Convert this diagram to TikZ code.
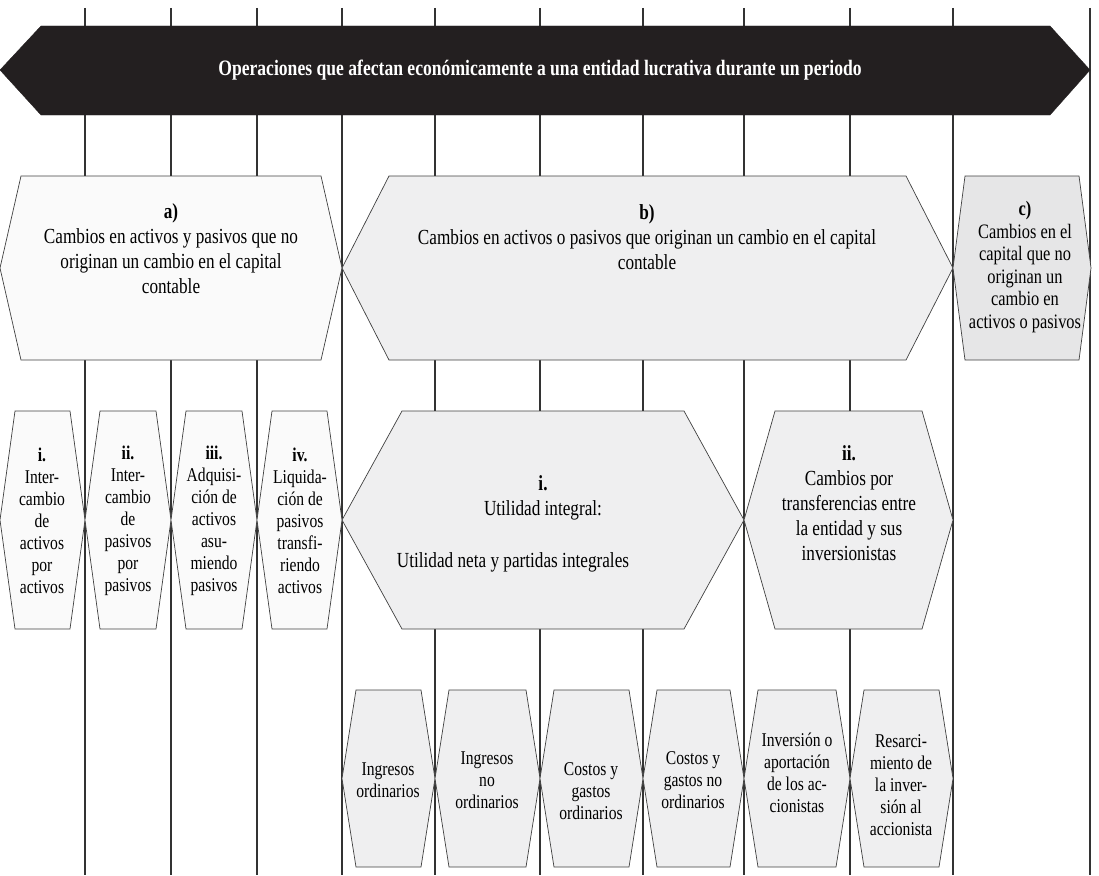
\documentclass[tikz,border=0pt]{standalone}
\usepackage{fontspec}
\setmainfont{Liberation Serif}[FakeStretch=0.8]
\usepackage{tikz}

\definecolor{bannerdark}{HTML}{231F20}
\definecolor{paleA}{HTML}{FAFAFA}
\definecolor{paleB}{HTML}{EFEFF0}
\definecolor{paleC}{HTML}{E6E6E7}

\newcommand{\hexa}[6]{%
  \filldraw[hexline, fill=#6] (#1+#5,#3) -- (#2-#5,#3) -- (#2,{(#3+#4)/2})
    -- (#2-#5,#4) -- (#1+#5,#4) -- (#1,{(#3+#4)/2}) -- cycle;}

\begin{document}
\begin{tikzpicture}
[x=1pt, y=-1pt,
    vline/.style={draw=black!80, line width=1.1pt},
    hexline/.style={draw=black!75, line width=0.7pt},
    bigtext/.style={align=center, inner sep=0pt, font=\fontsize{21.5}{25}\selectfont},
    midtext/.style={align=center, inner sep=0pt, font=\fontsize{20.5}{22.5}\selectfont},
    smalltext/.style={align=center, inner sep=0pt, font=\fontsize{19.5}{22}\selectfont}]
\useasboundingbox (0,0) rectangle (1099,875);
\draw[vline] (85,8) -- (85,875);
\draw[vline] (171,8) -- (171,875);
\draw[vline] (257,8) -- (257,875);
\draw[vline] (342,8) -- (342,875);
\draw[vline] (435,8) -- (435,875);
\draw[vline] (540,8) -- (540,875);
\draw[vline] (643,8) -- (643,875);
\draw[vline] (744,8) -- (744,875);
\draw[vline] (850,8) -- (850,875);
\draw[vline] (953,8) -- (953,875);
\draw[vline] (1090,8) -- (1090,875);

\filldraw[draw=bannerdark, fill=bannerdark] (41,26) -- (1050,26) -- (1090,70)
    -- (1050,115) -- (41,115) -- (0,70) -- cycle;
\node [bigtext, text=white, font=\fontsize{22}{25}\selectfont\bfseries] (ops) at (540,70)
    {Operaciones que afectan económicamente a una entidad lucrativa durante un periodo};

\hexa{0}{342}{176}{360}{21}{paleA}
\hexa{342}{953}{176}{360}{47}{paleB}
\hexa{953}{1091}{176}{360}{12}{paleC}
\node [bigtext] (grpA) at (171,249) {\textbf{a)}\\Cambios en activos y pasivos que no\\originan un cambio en el capital\\contable};
\node [bigtext] (grpB) at (647,237) {\textbf{b)}\\Cambios en activos o pasivos que originan un cambio en el capital\\contable};
\node [midtext] (grpC) at (1025,267) {\textbf{c)}\\Cambios en el\\capital que no\\originan un\\cambio en\\activos o pasivos};

\hexa{0}{85}{411}{629}{15}{paleA}
\hexa{85}{171}{411}{629}{15}{paleA}
\hexa{171}{257}{411}{629}{15}{paleA}
\hexa{257}{342}{411}{629}{15}{paleA}
\hexa{342}{744}{411}{629}{60}{paleB}
\hexa{744}{953}{411}{629}{31}{paleB}
\node [smalltext] (aOne) at (42,521) {\textbf{i.}\\Inter-\\cambio\\de\\activos\\por\\activos};
\node [smalltext] (aTwo) at (128,521) {\textbf{ii.}\\Inter-\\cambio\\de\\pasivos\\por\\pasivos};
\node [smalltext] (aThree) at (214,521) {\textbf{iii.}\\Adquisi-\\ción de\\activos\\asu-\\miendo\\pasivos};
\node [smalltext] (aFour) at (300,521) {\textbf{iv.}\\Liquida-\\ción de\\pasivos\\transfi-\\riendo\\activos};
\node [bigtext] (bOne) at (543,498) {\textbf{i.}\\Utilidad integral:};
\node [bigtext] (bOneNet) at (513,562) {Utilidad neta y partidas integrales};
\node [bigtext] (bTwo) at (849,503) {\textbf{ii.}\\Cambios por\\transferencias entre\\la entidad y sus\\inversionistas};

\hexa{342}{435}{690}{867}{14}{paleB}
\hexa{435}{540}{690}{867}{14}{paleB}
\hexa{540}{643}{690}{867}{14}{paleB}
\hexa{643}{744}{690}{867}{14}{paleB}
\hexa{744}{850}{690}{867}{14}{paleB}
\hexa{850}{953}{690}{867}{14}{paleB}
\node [smalltext] (ingOrd) at (388,780) {Ingresos\\ordinarios};
\node [smalltext] (ingNoOrd) at (487,780) {Ingresos\\no\\ordinarios};
\node [smalltext] (cosOrd) at (591,791) {Costos y\\gastos\\ordinarios};
\node [smalltext] (cosNoOrd) at (693,780) {Costos y\\gastos no\\ordinarios};
\node [smalltext] (invAport) at (797,773) {Inversión o\\aportación\\de los ac-\\cionistas};
\node [smalltext] (resarc) at (901,785) {Resarci-\\miento de\\la inver-\\sión al\\accionista};
\end{tikzpicture}
\end{document}
